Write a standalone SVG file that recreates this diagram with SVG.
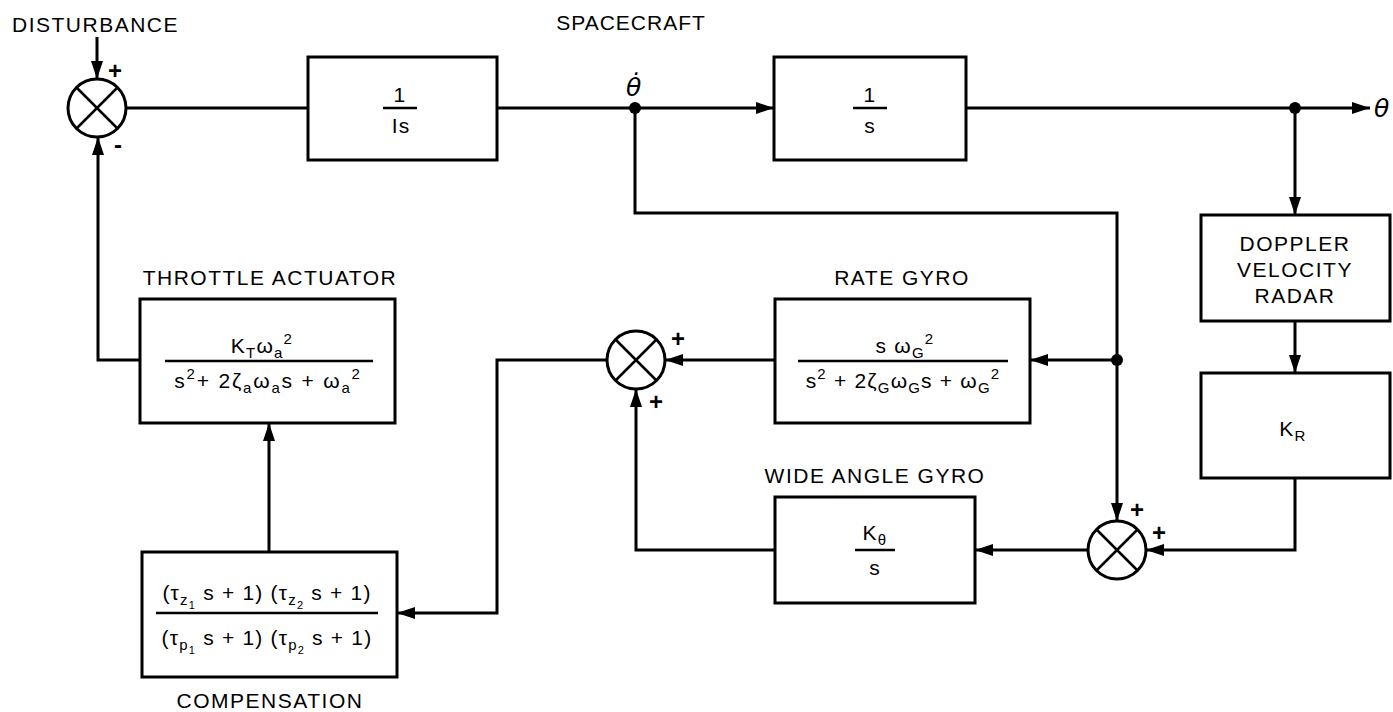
<svg xmlns="http://www.w3.org/2000/svg" width="1393" height="712" viewBox="0 0 1393 712">
<style>
text{font-family:"Liberation Sans",Arial,sans-serif;fill:#000}
.t{font-size:21px;letter-spacing:1.5px}
.m{font-size:21px;letter-spacing:1.2px}
.md{font-size:21px;letter-spacing:1.8px}
.sub{font-size:15px}
.ss{font-size:11px}
.sg{font-size:24px;font-weight:bold}
.th{font-family:"DejaVu Sans",sans-serif;font-size:25px;font-style:italic}
.box{fill:#fff;stroke:#000;stroke-width:3}
.ln{fill:none;stroke:#000;stroke-width:3}
.bar{stroke:#000;stroke-width:2.5}
.sum{fill:#fff;stroke:#000;stroke-width:3}
.x{stroke:#000;stroke-width:2.5}
.dot{fill:#000}
</style>
<defs>
<marker id="ah" viewBox="0 0 18 12" markerWidth="18" markerHeight="12" refX="18" refY="6" orient="auto" markerUnits="userSpaceOnUse"><path d="M0,0 L18,6 L0,12 z" fill="#000"/></marker>
</defs>
<rect width="1393" height="712" fill="#fff"/>

<g id="connectors">
<path class="ln" d="M97,37 V79" marker-end="url(#ah)"/>
<path class="ln" d="M126,108 H308"/>
<path class="ln" d="M497,108 H774" marker-end="url(#ah)"/>
<path class="ln" d="M966,108 H1370" marker-end="url(#ah)"/>
<path class="ln" d="M1295,108 V215" marker-end="url(#ah)"/>
<path class="ln" d="M1295,321 V373" marker-end="url(#ah)"/>
<path class="ln" d="M1295,478 V550 H1146" marker-end="url(#ah)"/>
<path class="ln" d="M635,108 V213 H1117 V521" marker-end="url(#ah)"/>
<path class="ln" d="M1117,360 H1030" marker-end="url(#ah)"/>
<path class="ln" d="M775,360 H665" marker-end="url(#ah)"/>
<path class="ln" d="M607,360 H497 V613 H397" marker-end="url(#ah)"/>
<path class="ln" d="M269,552 V423" marker-end="url(#ah)"/>
<path class="ln" d="M140,360 H98 V137" marker-end="url(#ah)"/>
<path class="ln" d="M1088,550 H975" marker-end="url(#ah)"/>
<path class="ln" d="M775,550 H636 V389" marker-end="url(#ah)"/>
<circle class="dot" cx="635" cy="108" r="6"/>
<circle class="dot" cx="1295" cy="108" r="6"/>
<circle class="dot" cx="1117" cy="360" r="6"/>
</g>

<g id="labels">
<text class="t" x="12" y="32">DISTURBANCE</text>
<text class="t" x="631" y="30" text-anchor="middle" style="letter-spacing:1px">SPACECRAFT</text>
<text class="th" x="626" y="96">θ̇</text>
<text class="th" x="1374" y="117">θ</text>
</g>

<g id="sum1">
<circle class="sum" cx="97" cy="108" r="29"/>
<path class="x" d="M76.5,87.5 L117.5,128.5 M117.5,87.5 L76.5,128.5"/>
<text class="sg" x="115" y="79" text-anchor="middle">+</text>
<text class="sg" x="118" y="153" text-anchor="middle">-</text>
</g>

<g id="block-1-Is">
<rect class="box" x="308" y="57" width="189" height="103"/>
<text class="m" x="400" y="102" text-anchor="middle">1</text>
<line class="bar" x1="383" y1="108" x2="417" y2="108"/>
<text class="m" x="401" y="133" text-anchor="middle">Is</text>
</g>

<g id="block-1-s">
<rect class="box" x="774" y="57" width="192" height="103"/>
<text class="m" x="870" y="102" text-anchor="middle">1</text>
<line class="bar" x1="853" y1="108" x2="887" y2="108"/>
<text class="m" x="870" y="133" text-anchor="middle">s</text>
</g>

<g id="doppler">
<rect class="box" x="1201" y="215" width="189" height="106"/>
<text class="t" x="1295" y="251" text-anchor="middle">DOPPLER</text>
<text class="t" x="1295" y="277" text-anchor="middle">VELOCITY</text>
<text class="t" x="1295" y="303" text-anchor="middle">RADAR</text>
</g>

<g id="kr">
<rect class="box" x="1201" y="373" width="189" height="105"/>
<text class="m" x="1293" y="436" text-anchor="middle">K<tspan class="sub" dy="5">R</tspan></text>
</g>

<g id="sum3">
<circle class="sum" cx="1117" cy="550" r="29"/>
<path class="x" d="M1096.5,529.5 L1137.5,570.5 M1137.5,529.5 L1096.5,570.5"/>
<text class="sg" x="1137" y="518" text-anchor="middle">+</text>
<text class="sg" x="1159" y="541" text-anchor="middle">+</text>
</g>

<g id="rate-gyro">
<text class="t" x="902" y="285" text-anchor="middle">RATE GYRO</text>
<rect class="box" x="775" y="299" width="255" height="124"/>
<text class="m" x="905" y="353" text-anchor="middle">s ω<tspan class="sub" dy="5">G</tspan><tspan class="sub" dy="-14">2</tspan></text>
<line class="bar" x1="798" y1="361" x2="1008" y2="361"/>
<text class="m" x="903" y="388" text-anchor="middle">s<tspan class="sub" dy="-9">2</tspan><tspan dy="9"> + 2ζ</tspan><tspan class="sub" dy="5">G</tspan><tspan dy="-5">ω</tspan><tspan class="sub" dy="5">G</tspan><tspan dy="-5">s + ω</tspan><tspan class="sub" dy="5">G</tspan><tspan class="sub" dy="-14">2</tspan></text>
</g>

<g id="sum2">
<circle class="sum" cx="636" cy="360" r="29"/>
<path class="x" d="M615.5,339.5 L656.5,380.5 M656.5,339.5 L615.5,380.5"/>
<text class="sg" x="678" y="347" text-anchor="middle">+</text>
<text class="sg" x="656" y="410" text-anchor="middle">+</text>
</g>

<g id="throttle">
<text class="t" x="270" y="285" text-anchor="middle">THROTTLE ACTUATOR</text>
<rect class="box" x="140" y="299" width="255" height="124"/>
<text class="m" x="262" y="353" text-anchor="middle">K<tspan class="sub" dy="5">T</tspan><tspan dy="-5">ω</tspan><tspan class="sub" dy="5">a</tspan><tspan class="sub" dy="-14">2</tspan></text>
<line class="bar" x1="165" y1="361" x2="373" y2="361"/>
<text class="md" x="268" y="388" text-anchor="middle">s<tspan class="sub" dy="-9">2</tspan><tspan dy="9">+ 2ζ</tspan><tspan class="sub" dy="5">a</tspan><tspan dy="-5">ω</tspan><tspan class="sub" dy="5">a</tspan><tspan dy="-5">s + ω</tspan><tspan class="sub" dy="5">a</tspan><tspan class="sub" dy="-14">2</tspan></text>
</g>

<g id="compensation">
<rect class="box" x="142" y="552" width="255" height="125"/>
<text class="m" x="267" y="600" text-anchor="middle">(τ<tspan class="sub" dy="5">z</tspan><tspan class="ss" dy="4">1</tspan><tspan dy="-9"> s + 1) (τ</tspan><tspan class="sub" dy="5">z</tspan><tspan class="ss" dy="4">2</tspan><tspan dy="-9"> s + 1)</tspan></text>
<line class="bar" x1="156" y1="613" x2="378" y2="613"/>
<text class="m" x="267" y="645" text-anchor="middle">(τ<tspan class="sub" dy="5">p</tspan><tspan class="ss" dy="4">1</tspan><tspan dy="-9"> s + 1) (τ</tspan><tspan class="sub" dy="5">p</tspan><tspan class="ss" dy="4">2</tspan><tspan dy="-9"> s + 1)</tspan></text>
<text class="t" x="270" y="708" text-anchor="middle">COMPENSATION</text>
</g>

<g id="wide-angle-gyro">
<text class="t" x="875" y="483" text-anchor="middle">WIDE ANGLE GYRO</text>
<rect class="box" x="775" y="497" width="200" height="106"/>
<text class="m" x="875" y="540" text-anchor="middle">K<tspan class="sub" dy="5">θ</tspan></text>
<line class="bar" x1="855" y1="550" x2="895" y2="550"/>
<text class="m" x="875" y="575" text-anchor="middle">s</text>
</g>
</svg>
